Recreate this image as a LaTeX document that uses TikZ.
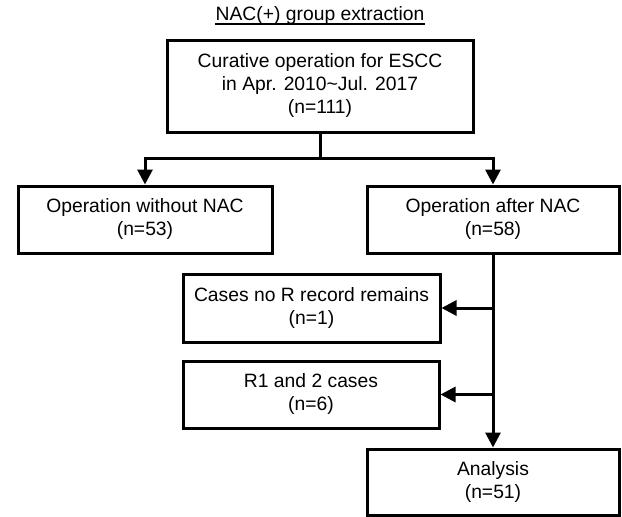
\documentclass[tikz,border=0pt]{standalone}
\usepackage{fontspec}
\setmainfont{Liberation Sans}
\usetikzlibrary{arrows.meta}
\begin{document}
\begin{tikzpicture}[x=1pt,y=-1pt,
  box/.style={draw,line width=3pt,rectangle,inner sep=0pt,align=center,
    font=\fontsize{19.3}{23}\selectfont},
  conn/.style={line width=3pt},
  arr/.style={conn,-{Triangle[length=15pt,width=15pt]}}]
\useasboundingbox (0,0) rectangle (622,517);
\node[inner sep=0pt,font=\fontsize{19.3}{23}\selectfont] (title) at (320,16) {NAC(+) group extraction};
\draw[line width=1.3pt] ([yshift=-3pt]title.base west) -- ([yshift=-3pt]title.base east);
\node[box,minimum width=306pt,minimum height=92pt] (top) at (320,86)
  {Curative operation for ESCC\\in Apr. 2010\textasciitilde Jul. 2017\\(n=111)};
\node[box,minimum width=254pt,minimum height=67pt] (left) at (145,219.5)
  {Operation without NAC\\(n=53)};
\node[box,minimum width=252pt,minimum height=67pt] (right) at (493,219.5)
  {Operation after NAC\\(n=58)};
\node[box,minimum width=257pt,minimum height=68pt] (cases) at (311.5,308)
  {Cases no R record remains\\(n=1)};
\node[box,minimum width=256pt,minimum height=67pt] (rone) at (311,394.5)
  {R1 and 2 cases\\(n=6)};
\node[box,minimum width=252pt,minimum height=66pt] (analysis) at (493,482)
  {Analysis\\(n=51)};
\coordinate (j) at (320,158);
\coordinate (b1) at (493,308);
\coordinate (b2) at (493,394.5);
\draw[conn] (top.south) -- (j);
\draw[arr] (j) -| (left.north);
\draw[arr] (j) -| (right.north);
\draw[arr] (right.south) -- (analysis.north);
\draw[arr] (b1) -- (cases.east);
\draw[arr] (b2) -- (rone.east);
\end{tikzpicture}
\end{document}
